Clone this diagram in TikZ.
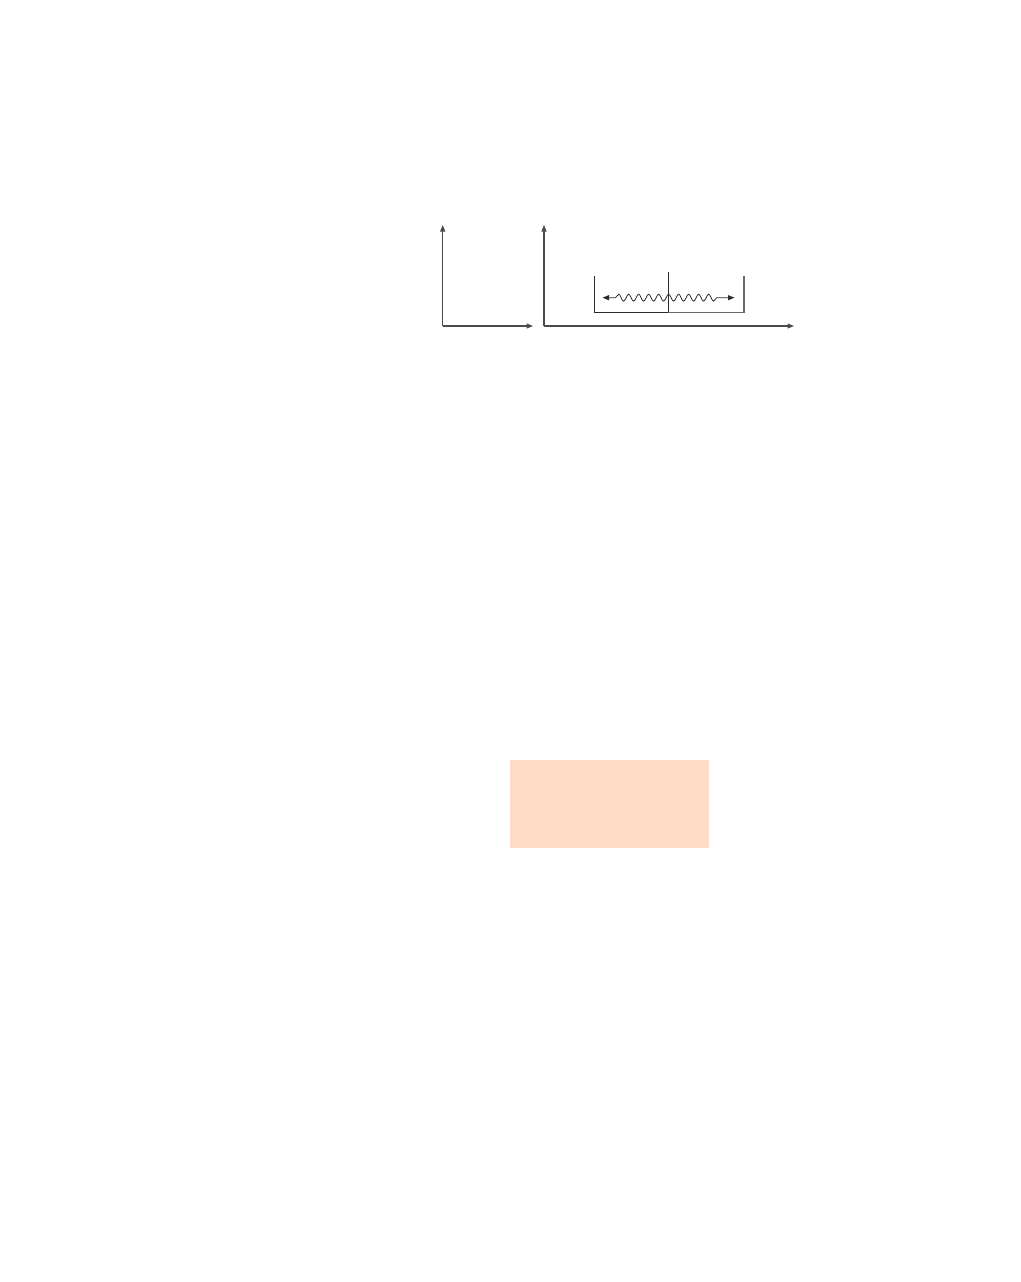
\documentclass[tikz,border=0pt]{standalone}
\usetikzlibrary{arrows.meta,decorations.pathmorphing}
\definecolor{axisgray}{HTML}{4A4A4A}
\definecolor{darkline}{HTML}{2E2A26}
\definecolor{lightline}{HTML}{6A6A6A}
\definecolor{peach}{HTML}{FEDCC7}
\tikzset{
  axis/.style={draw=axisgray, line width=1.1pt, -{Triangle[length=6.5pt,width=5pt]}},
  wall/.style={line width=1.1pt},
  wave/.style={draw=darkline, line width=0.8pt, {Triangle[length=6.5pt,width=5pt]}-{Triangle[length=6.5pt,width=5pt]},
    decorate, decoration={snake, segment length=10pt, amplitude=3.5pt, pre length=13pt, post length=13pt}}
}
\begin{document}
\begin{tikzpicture}[x=1pt,y=-1pt]
\useasboundingbox (0,0) rectangle (1020,1282);
% left axes
\coordinate (o1) at (442.7,326);
\coordinate (y1) at (442.7,225);
\coordinate (x1) at (533,326);
\draw[axis] (o1) -- (y1);
\draw[axis] (o1) -- (x1);
% right axes
\coordinate (o2) at (544,326);
\coordinate (y2) at (544,225);
\coordinate (x2) at (794,326);
\draw[axis] (o2) -- (y2);
\draw[axis] (o2) -- (x2);
% well
\coordinate (tl) at (594.7,276);
\coordinate (bl) at (594.7,312.3);
\coordinate (tm) at (668.3,272);
\coordinate (bm) at (668.3,312.3);
\coordinate (tr) at (744,276);
\coordinate (br) at (744,312.3);
\draw[wall, draw=darkline] (tl) -- (bl) -- (bm);
\draw[wall, draw=lightline] (bm) -- (br) -- (tr);
\draw[wall, draw=darkline] (tm) -- (bm);
% wave
\coordinate (wl) at (602.5,297.7);
\coordinate (wr) at (734.5,297.7);
\draw[wave] (wl) -- (wr);
% peach box
\fill[peach] (510,760) rectangle (708.5,847.5);
\end{tikzpicture}
\end{document}
